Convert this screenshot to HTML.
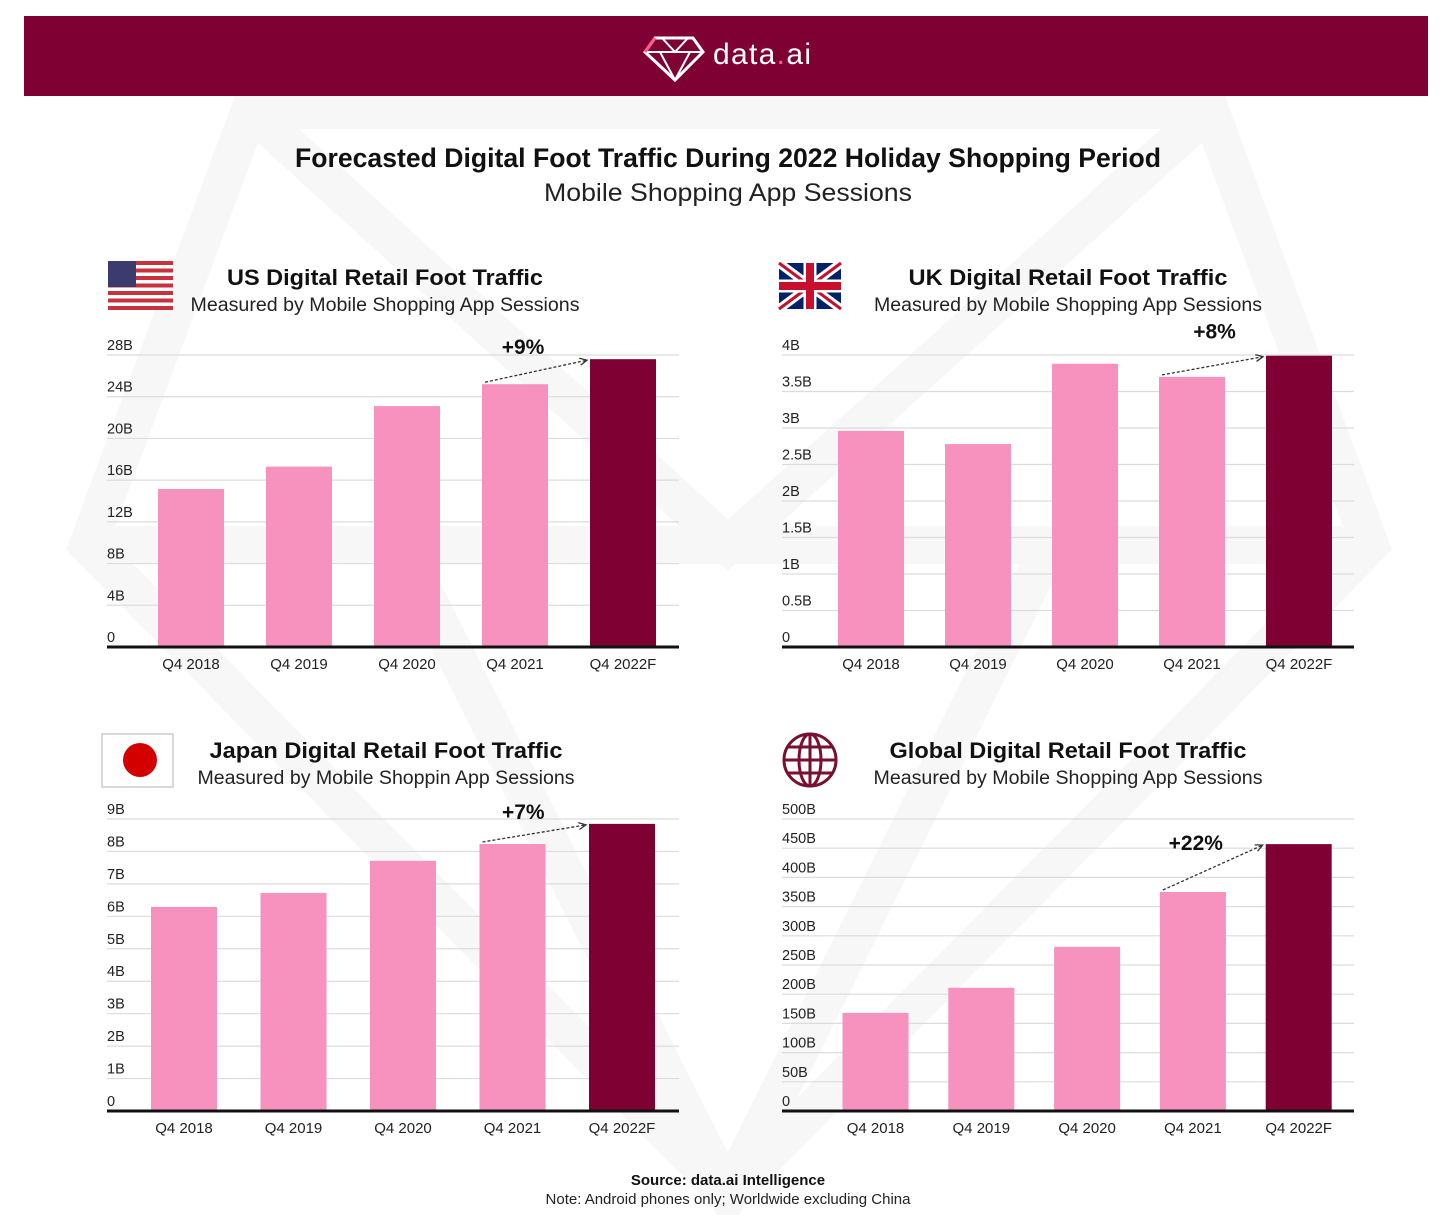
<!DOCTYPE html>
<html><head><meta charset="utf-8"><style>
html,body{margin:0;padding:0;background:#fff;}
svg{display:block;font-family:"Liberation Sans",sans-serif;}
</style></head><body>
<svg id="s" width="1456" height="1215" viewBox="0 0 1456 1215" xmlns="http://www.w3.org/2000/svg">
<g fill="none" stroke="#f7f7f7" stroke-width="38" stroke-linejoin="miter">
<polygon points="250,110 1210,110 1370,545 728,1195 88,545"/>
<polyline points="250,110 728,545 1210,110"/>
<polyline points="88,545 728,545 1370,545"/>
<polyline points="400,545 728,1195 1050,545"/>
</g>
<rect x="24" y="16" width="1404" height="80" fill="#7f0033"/>
<g>
<polygon points="655,38 693,38 703,52 675,80 645,52" fill="none" stroke="#fff" stroke-width="3"/>
<polyline points="645,52 703,52" fill="none" stroke="#fff" stroke-width="2"/>
<polyline points="662,38 675,52 688,38" fill="none" stroke="#fff" stroke-width="2"/>
<polyline points="660,52 675,80 690,52" fill="none" stroke="#fff" stroke-width="2"/>
<polyline points="645,52 655,38" fill="none" stroke="#ff5a8c" stroke-width="3"/>
<text x="713" y="64" fill="#fff" font-size="30" textLength="98">data<tspan fill="#ff5a8c">.</tspan>ai</text>
</g>
<text x="728" y="167" text-anchor="middle" font-size="27" font-weight="bold" fill="#111" textLength="866" lengthAdjust="spacingAndGlyphs">Forecasted Digital Foot Traffic During 2022 Holiday Shopping Period</text>
<text x="728" y="201" text-anchor="middle" font-size="25" fill="#222" textLength="368" lengthAdjust="spacingAndGlyphs">Mobile Shopping App Sessions</text>

<g>
<rect x="108" y="261" width="65" height="49" fill="#fff"/>
<g fill="#c8323c"><rect x="108" y="261" width="65" height="4"/><rect x="108" y="268.5" width="65" height="4"/><rect x="108" y="276" width="65" height="4"/><rect x="108" y="283.5" width="65" height="4"/><rect x="108" y="291" width="65" height="4"/><rect x="108" y="298.5" width="65" height="4"/><rect x="108" y="306" width="65" height="4"/></g>
<rect x="108" y="261" width="28" height="26" fill="#3c3b6e"/>
</g>
<g>
<rect x="779" y="263" width="62" height="46" fill="#012169"/>
<path d="M779,263L841,309M841,263L779,309" stroke="#fff" stroke-width="9"/>
<path d="M779,263L841,309M841,263L779,309" stroke="#c8102e" stroke-width="3"/>
<path d="M810,263V309M779,286H841" stroke="#fff" stroke-width="13"/>
<path d="M810,263V309M779,286H841" stroke="#c8102e" stroke-width="8"/>
</g>
<g>
<rect x="102" y="734" width="71" height="53" fill="#fff" stroke="#ccc" stroke-width="1.5"/>
<circle cx="140" cy="760" r="17" fill="#d40000"/>
</g>
<g fill="none" stroke="#7a1030" stroke-width="3">
<circle cx="810" cy="760" r="26"/>
<ellipse cx="810" cy="760" rx="11" ry="26"/>
<path d="M810,734V786M784,760H836M788,747H832M788,773H832"/>
</g>
<text x="728" y="1185" text-anchor="middle" font-size="15" font-weight="bold" fill="#111">Source: data.ai Intelligence</text>
<text x="728" y="1204" text-anchor="middle" font-size="15" fill="#222">Note: Android phones only; Worldwide excluding China</text>
</svg>
<script>
const categories = ["Q4 2018","Q4 2019","Q4 2020","Q4 2021","Q4 2022F"];
const usValues = [15.15, 17.3, 23.1, 25.2, 27.6];
const usTicks = ["0","4B","8B","12B","16B","20B","24B","28B"];
const ukValues = [2.96, 2.78, 3.88, 3.70, 3.99];
const ukTicks = ["0","0.5B","1B","1.5B","2B","2.5B","3B","3.5B","4B"];
const jpValues = [6.29, 6.72, 7.71, 8.23, 8.85];
const jpTicks = ["0","1B","2B","3B","4B","5B","6B","7B","8B","9B"];
const glValues = [168, 211, 281, 375, 457];
const glTicks = ["0","50B","100B","150B","200B","250B","300B","350B","400B","450B","500B"];
const usGrowth = "+9%", ukGrowth = "+8%", jpGrowth = "+7%", glGrowth = "+22%";

const NS="http://www.w3.org/2000/svg";
const svg=document.getElementById('s');
function mk(tag,attrs,parent){const e=document.createElementNS(NS,tag);for(const k in attrs)e.setAttribute(k,attrs[k]);(parent||svg).appendChild(e);return e;}

function chart(cfg){
  const g=mk('g',{});
  
  
  const tt=mk('text',{x:cfg.cx,y:cfg.ty,'text-anchor':'middle','font-size':22,'font-weight':'bold',fill:'#111',textLength:cfg.tw,lengthAdjust:'spacingAndGlyphs'},g);
  tt.textContent=cfg.title;
  
  
  const st=mk('text',{x:cfg.cx,y:cfg.ty+26,'text-anchor':'middle','font-size':19,fill:'#222',textLength:cfg.sw,lengthAdjust:'spacingAndGlyphs'},g);
  st.textContent=cfg.sub;
  
  
  const n=cfg.ticks.length-1;
  const y=v=>cfg.y0-(v/cfg.max)*(cfg.y0-cfg.ytop);
  for(let i=0;i<=n;i++){
    const v=cfg.max*i/n, yy=y(v);
    if(i>0){const l=mk('line',{x1:cfg.x0,x2:cfg.x1,y1:yy,y2:yy,stroke:'#dcdcdc','stroke-width':1.2},g);
      
      }
    const t=mk('text',{x:cfg.x0,y:yy-5,'font-size':14.5,fill:'#222'},g);
    t.textContent=cfg.ticks[i];
    
    
  }
  const bw=66;
  const tops=[];
  cfg.values.forEach((v,i)=>{
    const cx=cfg.first+cfg.step*i;
    const r=mk('rect',{x:cx-bw/2,y:y(v),width:bw,height:cfg.y0-y(v),fill:i===categories.length-1?'#7f0033':'#f692bd'},g);
    
    
    tops.push([cx,y(v)]);
    const t=mk('text',{x:cx,y:cfg.y0+22,'text-anchor':'middle','font-size':15,fill:'#222'},g);
    t.textContent=categories[i];
    
    
  });
  const base=mk('line',{x1:cfg.x0,x2:cfg.x1,y1:cfg.y0,y2:cfg.y0,stroke:'#111','stroke-width':3},g);
  
  
  const a=tops[3], b=tops[4];
  const ax=a[0]-30, ay=a[1]-2, bx=b[0]-36, by=b[1]+1;
  const ar=mk('line',{x1:ax,y1:ay,x2:bx,y2:by,stroke:'#333','stroke-width':1.3,'stroke-dasharray':'3,2'},g);
  
  
  const ang=Math.atan2(by-ay,bx-ax);
  const hd=mk('path',{d:`M${bx-8*Math.cos(ang-0.45)},${by-8*Math.sin(ang-0.45)}L${bx},${by}L${bx-8*Math.cos(ang+0.45)},${by-8*Math.sin(ang+0.45)}`,fill:'none',stroke:'#333','stroke-width':1.3},g);
  
  
  const gl=mk('text',{x:(ax+bx)/2+cfg.gdx,y:Math.min(ay,by)+cfg.gdy,'text-anchor':'middle','font-size':21,'font-weight':'bold',fill:'#111'},g);
  gl.textContent=cfg.growth;
  
  
}
chart({name:'us-chart',title:'US Digital  Retail  Foot Traffic',sub:'Measured by Mobile Shopping App Sessions',cx:385,ty:285,tw:316,sw:389,values:usValues,ticks:usTicks,max:28,x0:107,x1:679,y0:647,ytop:355,first:191,step:108,growth:usGrowth,gdx:-13,gdy:-6});
chart({name:'uk-chart',title:'UK Digital  Retail  Foot Traffic',sub:'Measured by Mobile Shopping App Sessions',cx:1068,ty:285,tw:319,sw:388,values:ukValues,ticks:ukTicks,max:4,x0:782,x1:1354,y0:647,ytop:355,first:871,step:107,growth:ukGrowth,gdx:2,gdy:-18});
chart({name:'japan-chart',title:'Japan Digital  Retail  Foot Traffic',sub:'Measured by Mobile Shoppin App Sessions',cx:386,ty:758,tw:353,sw:377,values:jpValues,ticks:jpTicks,max:9,x0:107,x1:679,y0:1111,ytop:819,first:184,step:109.5,growth:jpGrowth,gdx:-11,gdy:-6});
chart({name:'global-chart',title:'Global Digital  Retail  Foot Traffic',sub:'Measured by Mobile Shopping App Sessions',cx:1068,ty:758,tw:357,sw:389,values:glValues,ticks:glTicks,max:500,x0:782,x1:1354,y0:1111,ytop:819,first:875.5,step:105.8,growth:glGrowth,gdx:-17,gdy:5});
</script>
</body></html>
